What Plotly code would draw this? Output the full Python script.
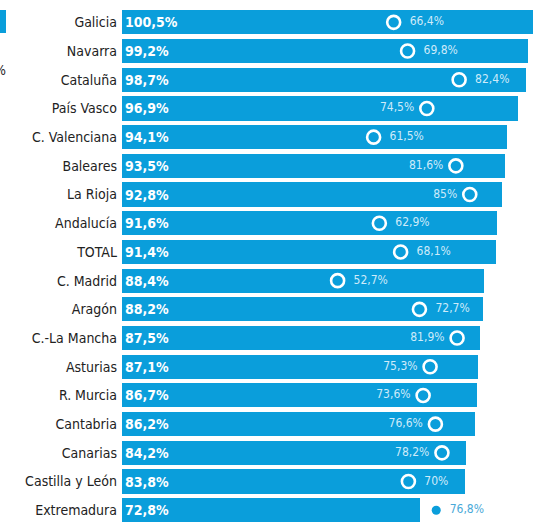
import plotly.graph_objects as go

regions = ["Galicia", "Navarra", "Cataluña", "País Vasco", "C. Valenciana", "Baleares",
           "La Rioja", "Andalucía", "TOTAL", "C. Madrid", "Aragón", "C.-La Mancha",
           "Asturias", "R. Murcia", "Cantabria", "Canarias", "Castilla y León", "Extremadura"]
bar_values = [100.5, 99.2, 98.7, 96.9, 94.1, 93.5, 92.8, 91.6, 91.4, 88.4, 88.2, 87.5,
              87.1, 86.7, 86.2, 84.2, 83.8, 72.8]
circle_values = [66.4, 69.8, 82.4, 74.5, 61.5, 81.6, 85.0, 62.9, 68.1, 52.7, 72.7, 81.9,
                 75.3, 73.6, 76.6, 78.2, 70.0, 76.8]

# label side for the circle values (style)
label_side = ["r", "r", "r", "l", "r", "l", "l", "r", "r", "r", "r", "l",
              "l", "l", "l", "l", "r", "r"]

BLUE = "#0a9edb"


def fmt(v):
    s = f"{v:.1f}".replace(".", ",")
    if s.endswith(",0"):
        s = s[:-2]
    return s + "%"


fig = go.Figure()

fig.add_trace(go.Bar(
    y=regions, x=bar_values, orientation="h",
    marker=dict(color=BLUE, line=dict(width=0)),
    width=0.84,
    text=[fmt(v) for v in bar_values],
    textposition="inside", insidetextanchor="start",
    textfont=dict(family="DejaVu Sans Condensed", size=14, color="white", weight="bold"),
    cliponaxis=False,
    hoverinfo="skip",
))

inside_idx = [i for i in range(len(regions)) if circle_values[i] <= bar_values[i]]
outside_idx = [i for i in range(len(regions)) if circle_values[i] > bar_values[i]]

pos_map = {"r": "middle right", "l": "middle left"}

fig.add_trace(go.Scatter(
    y=[regions[i] for i in inside_idx], x=[circle_values[i] for i in inside_idx],
    mode="markers+text",
    marker=dict(symbol="circle-open", size=13, color="white", line=dict(width=2.6, color="white")),
    text=["  " + fmt(circle_values[i]) + " " if label_side[i] == "r" else " " + fmt(circle_values[i]) + " "
          for i in inside_idx],
    textposition=[pos_map[label_side[i]] for i in inside_idx],
    textfont=dict(family="DejaVu Sans Condensed", size=12, color="rgba(235,248,255,0.88)"),
    hoverinfo="skip", cliponaxis=False,
))

fig.add_trace(go.Scatter(
    y=[regions[i] for i in outside_idx], x=[circle_values[i] for i in outside_idx],
    mode="markers+text",
    marker=dict(symbol="circle", size=9, color=BLUE),
    text=["  " + fmt(circle_values[i]) for i in outside_idx],
    textposition="middle right",
    textfont=dict(family="DejaVu Sans Condensed", size=12, color="#4aa9d8"),
    hoverinfo="skip", cliponaxis=False,
))

W, H = 534, 522
ML, MT = 122, 8
PW, PH = W - ML, H - MT

# cropped legend fragment at the left edge
fig.add_shape(type="rect", xref="paper", yref="paper",
              x0=-ML / PW, x1=(6 - ML) / PW,
              y0=1 - (33 - MT) / PH, y1=1 - (10 - MT) / PH,
              fillcolor=BLUE, line=dict(width=0), layer="above")

fig.add_annotation(text="%", xref="paper", yref="paper", x=-ML / PW, y=1 - (60 - MT) / PH,
                   xanchor="center", yanchor="top", showarrow=False,
                   font=dict(family="DejaVu Sans Condensed", size=14, color="#2a2a2a"))

fig.update_layout(
    width=W, height=H,
    margin=dict(l=ML, r=0, t=MT, b=0, autoexpand=False),
    paper_bgcolor="white", plot_bgcolor="white",
    showlegend=False,
    bargap=0,
    xaxis=dict(range=[0, 100.7], visible=False, fixedrange=True),
    yaxis=dict(categoryorder="array", categoryarray=regions,
               range=[17.41, -0.5], autorange=False,
               showgrid=False, showline=False, zeroline=False, ticks="",
               ticklabelstandoff=4, automargin=False,
               tickfont=dict(family="DejaVu Sans Condensed", size=14, color="#222222"),
               fixedrange=True),
)

fig.write_html("out.html",
               config={"displayModeBar": False, "staticPlot": True},
               post_script="document.body.style.margin='0';document.body.style.overflow='hidden';")
